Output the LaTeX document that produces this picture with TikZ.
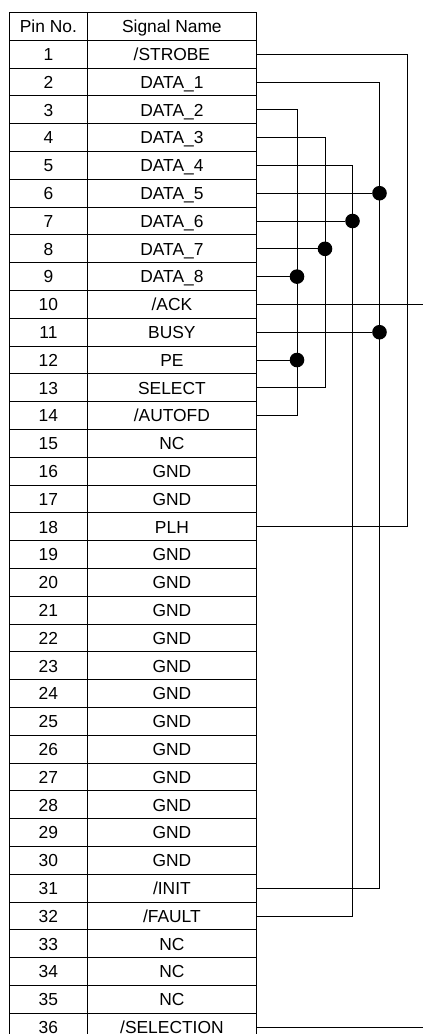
\documentclass[tikz,border=0pt]{standalone}
\usepackage{fontspec}
\setmainfont{Liberation Sans}
\tikzset{
  cell/.style={draw=black,line width=0.9pt,rectangle,inner sep=0pt,outer sep=0pt,minimum height=27.8pt,
    text height=12.5pt,text depth=0pt,font=\fontsize{17.4}{20}\selectfont},
  pincell/.style={cell,minimum width=77.8pt},
  sigcell/.style={cell,minimum width=169.2pt},
  wire/.style={draw=black,line width=0.9pt},
  junction/.style={circle,fill=black,draw=none,minimum size=14.6pt,inner sep=0pt}
}
\begin{document}
\begin{tikzpicture}[x=1pt,y=-1pt]
\useasboundingbox (0,0) rectangle (423,1034);
\clip (0,0) rectangle (423,1034);
\coordinate (busA) at (407,0);
\coordinate (busB) at (379.5,0);
\coordinate (busC) at (352.5,0);
\coordinate (busD) at (325,0);
\coordinate (busE) at (297,0);
\coordinate (edge) at (423,0);
\node[pincell] (p0) at (48.4,26.4) {Pin No.};
\node[sigcell] (s0) at (171.9,26.4) {Signal Name};
\foreach \n/\t in {1/{/STROBE},2/DATA\_1,3/DATA\_2,4/DATA\_3,5/DATA\_4,6/DATA\_5,7/DATA\_6,8/DATA\_7,9/DATA\_8,
  10/{/ACK},11/BUSY,12/PE,13/SELECT,14/{/AUTOFD},15/NC,16/GND,17/GND,18/PLH,
  19/GND,20/GND,21/GND,22/GND,23/GND,24/GND,25/GND,26/GND,27/GND,28/GND,29/GND,30/GND,
  31/{/INIT},32/{/FAULT},33/NC,34/NC,35/NC,36/{/SELECTION}}{
  \node[pincell] (p\n) at (48.4,{12.5+27.8*(\n+0.5)}) {\n};
  \node[sigcell] (s\n) at (171.9,{12.5+27.8*(\n+0.5)}) {\t};
}
\draw[wire] (s1.east) -- (s1.east -| busA) -- (s18.east -| busA) -- (s18.east);
\draw[wire] (s2.east) -- (s2.east -| busB) -- (s31.east -| busB) -- (s31.east);
\draw[wire] (s3.east) -- (s3.east -| busE) -- (s14.east -| busE) -- (s14.east);
\draw[wire] (s4.east) -- (s4.east -| busD) -- (s13.east -| busD) -- (s13.east);
\draw[wire] (s5.east) -- (s5.east -| busC) -- (s32.east -| busC) -- (s32.east);
\node[junction] (j6) at (s6.east -| busB) {};
\node[junction] (j7) at (s7.east -| busC) {};
\node[junction] (j8) at (s8.east -| busD) {};
\node[junction] (j9) at (s9.east -| busE) {};
\node[junction] (j11) at (s11.east -| busB) {};
\node[junction] (j12) at (s12.east -| busE) {};
\draw[wire] (s6.east) -- (j6);
\draw[wire] (s7.east) -- (j7);
\draw[wire] (s8.east) -- (j8);
\draw[wire] (s9.east) -- (j9);
\draw[wire] (s11.east) -- (j11);
\draw[wire] (s12.east) -- (j12);
\draw[wire] (s10.east) -- (s10.east -| edge);
\draw[wire] (s36.east) -- (s36.east -| edge);
\end{tikzpicture}
\end{document}
